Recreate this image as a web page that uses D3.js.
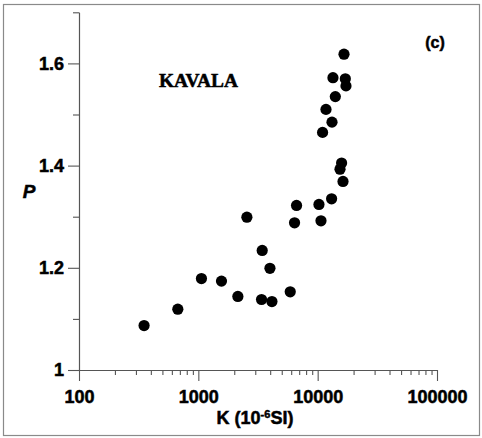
<!DOCTYPE html>
<html>
<head>
<meta charset="utf-8">
<script src="https://cdn.jsdelivr.net/npm/d3@7"></script>
<style>
  html, body { margin: 0; padding: 0; background: #fff; }
  svg { display: block; }
</style>
</head>
<body>
<svg id="chart" width="482" height="438"></svg>
<script>
// ---- data ----
const susceptibilityK = [351, 673, 1062, 1563, 2144, 2552, 3430, 3386, 3981, 4137,
  5891, 6401, 6653, 10253, 10662, 13085, 16300, 15385, 15870, 10990,
  13183, 11740, 14060, 13430, 17050, 17270, 16620];
const anisotropyP = [1.087, 1.119, 1.179, 1.174, 1.144, 1.299, 1.234, 1.138, 1.199, 1.134,
  1.153, 1.288, 1.322, 1.324, 1.292, 1.335, 1.369, 1.393, 1.405, 1.465,
  1.485, 1.510, 1.535, 1.572, 1.570, 1.556, 1.618];
const xMajorTicks = [100, 1000, 10000, 100000];
const xTickLabels = ["100", "1000", "10000", "100000"];
const yMajorTicks = [1, 1.2, 1.4, 1.6];
const yTickLabels = ["1", "1.2", "1.4", "1.6"];
const yMinorTicks = [1.1, 1.3, 1.5, 1.7];
const siteLabel = "KAVALA";
const panelLabel = "(c)";

const svg = d3.select("#chart");

// frame
svg.append("rect")
  .attr("x", 3.5).attr("y", 4.5).attr("width", 476).attr("height", 431)
  .attr("fill", "none").attr("stroke", "#8a8a8a").attr("stroke-width", 1.2);

const x = d3.scaleLog().domain([100, 100000]).range([79, 437]);
const y = d3.scaleLinear().domain([1, 1.7]).range([370, 12.3]);

const xMinor = [];
for (let d = 100; d < 100000; d *= 10) for (let m = 2; m <= 9; m++) xMinor.push(d * m);

const axisColor = "#555";
const fontSans = "'Liberation Sans', Arial, sans-serif";
const heavy = sel => sel.attr("stroke", "#000").attr("stroke-width", 0.5);

// x axis
const gx = svg.append("g").attr("transform", "translate(0,370)");
gx.call(d3.axisBottom(x).tickValues(xMinor).tickSize(5).tickSizeOuter(0).tickFormat(""));
gx.append("g").call(d3.axisBottom(x).tickValues(xMajorTicks).tickSize(11).tickSizeOuter(0)
  .tickPadding(9).tickFormat((d, i) => xTickLabels[i]));
gx.selectAll("path, line").attr("stroke", axisColor).attr("stroke-width", 1.1);
gx.selectAll("text").attr("fill", "#000").attr("font-family", fontSans)
  .attr("font-weight", "bold").attr("font-size", 18).call(heavy);

// y axis
const gy = svg.append("g").attr("transform", "translate(79,0)");
gy.call(d3.axisLeft(y).tickValues(yMinorTicks).tickSize(6).tickSizeOuter(0).tickFormat(""));
gy.append("g").call(d3.axisLeft(y).tickValues(yMajorTicks).tickSize(11).tickSizeOuter(0)
  .tickPadding(4).tickFormat((d, i) => yTickLabels[i]));
gy.selectAll("path, line").attr("stroke", axisColor).attr("stroke-width", 1.1);
gy.selectAll("text").attr("fill", "#000").attr("font-family", fontSans)
  .attr("font-weight", "bold").attr("font-size", 18).call(heavy);

// points
svg.append("g").selectAll("circle")
  .data(susceptibilityK.map((k, i) => ({ k, p: anisotropyP[i] })))
  .join("circle")
  .attr("cx", d => x(d.k)).attr("cy", d => y(d.p))
  .attr("r", 5.6).attr("fill", "#000");

// axis titles
const xt = svg.append("text")
  .attr("x", 255).attr("y", 424).attr("text-anchor", "middle")
  .attr("font-family", fontSans).attr("font-weight", "bold").attr("font-size", 18)
  .attr("fill", "#000").call(heavy);
xt.append("tspan").text("K (10");
xt.append("tspan").attr("dy", -6).attr("font-size", 11).text("-6");
xt.append("tspan").attr("dy", 6).text("SI)");

svg.append("text")
  .attr("x", 29).attr("y", 198).attr("text-anchor", "middle")
  .attr("font-family", fontSans).attr("font-weight", "bold").attr("font-style", "italic")
  .attr("font-size", 19).attr("fill", "#000").call(heavy).text("P");

svg.append("text")
  .attr("x", 159).attr("y", 86.5).attr("textLength", 79).attr("lengthAdjust", "spacingAndGlyphs")
  .attr("font-family", "'Liberation Serif', 'DejaVu Serif', serif").attr("font-weight", "bold")
  .attr("font-size", 19).attr("fill", "#000").call(heavy).text(siteLabel);

svg.append("text")
  .attr("x", 435).attr("y", 47.5).attr("text-anchor", "middle")
  .attr("font-family", fontSans).attr("font-weight", "bold")
  .attr("font-size", 16).attr("fill", "#000").call(heavy).text(panelLabel);
</script>
</body>
</html>
